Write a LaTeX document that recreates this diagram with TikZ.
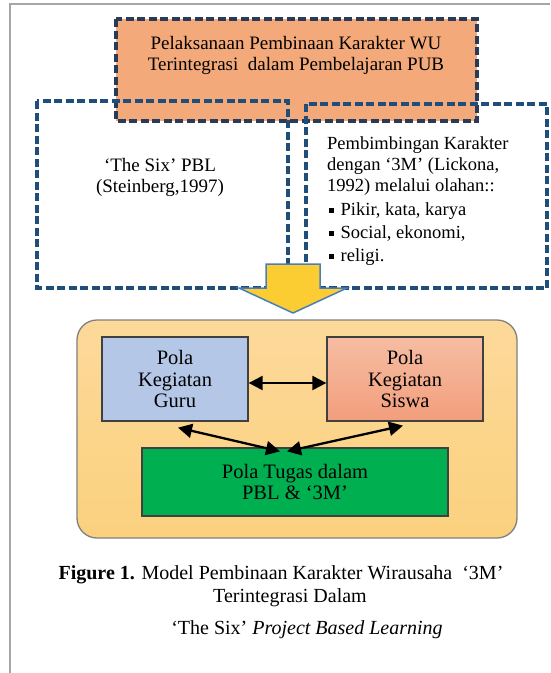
\documentclass[tikz,border=0pt]{standalone}
\usepackage{fontspec}
\setmainfont{Liberation Serif}
\usetikzlibrary{arrows.meta}

\definecolor{leadorange}{HTML}{F4A97A}
\definecolor{dashnavy}{HTML}{2A3B58}
\definecolor{dashblue}{HTML}{1F4E7A}
\definecolor{arrowyellow}{HTML}{FCCD32}
\definecolor{arrowblue}{HTML}{4A7EBB}
\definecolor{paneltop}{HTML}{FDD99A}
\definecolor{panelbot}{HTML}{FBD17E}
\definecolor{gurublue}{HTML}{B4C7E7}
\definecolor{siswatop}{HTML}{F6BDA3}
\definecolor{siswabot}{HTML}{F29E7C}
\definecolor{tugasgreen}{HTML}{00B050}
\definecolor{framegray}{HTML}{A6A6A6}

\newcommand{\sqbul}{\rule[2.5pt]{4.5pt}{4.5pt}}

\begin{document}
\begin{tikzpicture}[x=1pt,y=-1pt,
    txt/.style={font=\fontsize{19}{21}\selectfont, align=center, inner sep=0pt},
    dashbox/.style={draw=dashblue, line width=3.2pt, dash pattern=on 8pt off 3.5pt},
    polabox/.style={draw=black!75, line width=1.3pt, inner sep=0pt,
        font=\fontsize{20.5}{21.5}\selectfont, align=center},
    biarrow/.style={{Triangle[length=14pt,width=14pt]}-{Triangle[length=14pt,width=14pt]},
        line width=2.3pt}]

        \useasboundingbox (0,0) rectangle (550,673);
%        \draw[style=help lines, step=10] (0,0) grid (550,673);

        % frame
        \draw[framegray, line width=2pt] (550,3.5) -- (10,3.5) -- (10,673);

        % top box
        \fill[leadorange] (116,19) rectangle (477,121);
        \draw[draw=dashnavy, line width=3.2pt, dash pattern=on 8pt off 3.5pt] (116,19) rectangle (477,121);
        \node[txt] (lead) at (296,55) {Pelaksanaan Pembinaan Karakter WU\\Terintegrasi\ \ dalam Pembelajaran PUB};

        % two dashed boxes
        \draw[dashbox] (37,101) rectangle (288,288);
        \draw[dashbox] (306,104) rectangle (547,288);
        \node[txt] (six) at (160,177) {`The Six' PBL\\(Steinberg,1997)};
        \node[anchor=west, align=left, inner sep=0pt, font=\fontsize{18.5}{21}\selectfont] (olah) at (327,201)
            {Pembimbingan Karakter\\dengan `3M' (Lickona,\\1992) melalui olahan::\\[3pt]
             \hspace{2pt}\sqbul\hspace{7pt}Pikir, kata, karya\\[2pt]
             \hspace{2pt}\sqbul\hspace{7pt}Social, ekonomi,\\[2pt]
             \hspace{2pt}\sqbul\hspace{7pt}religi.};

        % down arrow
        \draw[fill=arrowyellow, draw=arrowblue, line width=1.5pt, line join=miter]
            (266,264) -- (320,264) -- (320,288) -- (347,288) -- (293,313)
            -- (239,288) -- (266,288) -- cycle;

        % lower panel
        \draw[rounded corners=20pt, top color=paneltop, bottom color=panelbot,
              draw=black!50, line width=1.3pt] (77,320) rectangle (517,538);

        \node[polabox, fill=gurublue, minimum width=146pt, minimum height=84pt] (guru) at (175,379) {Pola\\Kegiatan\\Guru};
        \node[polabox, top color=siswatop, bottom color=siswabot, minimum width=156pt, minimum height=84pt] (siswa) at (405,379) {Pola\\Kegiatan\\Siswa};
        \node[polabox, fill=tugasgreen, minimum width=306pt, minimum height=68pt] (tugas) at (295,482) {Pola Tugas dalam\\PBL \& `3M'};

        \draw[biarrow] ([yshift=-4pt]guru.east) -- ([yshift=-4pt]siswa.west);
        \draw[biarrow] ([xshift=3pt,yshift=-6pt]guru.south) -- ([xshift=-15pt,yshift=-4pt]tugas.north);
        \draw[biarrow] ([xshift=-2pt,yshift=-4pt]siswa.south) -- ([xshift=-8pt,yshift=-4pt]tugas.north);

        % caption
        \node[txt, font=\fontsize{20}{22}\selectfont] (capa) at (281,575) {\textbf{Figure 1.} Model Pembinaan Karakter Wirausaha\ \ `3M'};
        \node[txt, font=\fontsize{20}{22}\selectfont] (capb) at (290,598) {Terintegrasi Dalam};
        \node[txt, font=\fontsize{20}{22}\selectfont] (capc) at (307,630) {`The Six' \textit{Project Based Learning}};

\end{tikzpicture}
\end{document}
